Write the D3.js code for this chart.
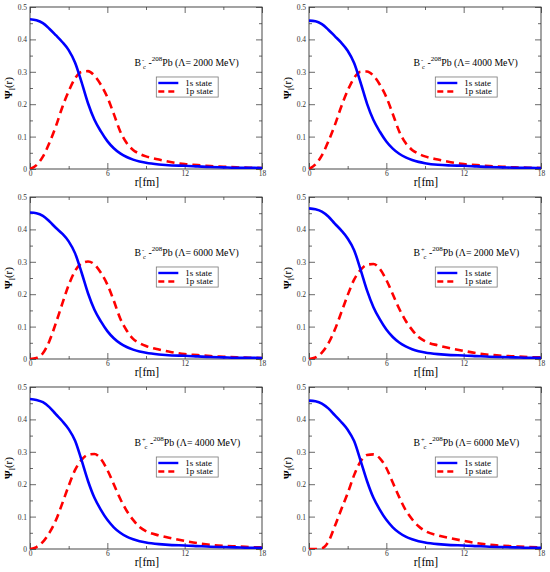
<!DOCTYPE html>
<html>
<head>
<meta charset="utf-8">
<script src="https://cdn.jsdelivr.net/npm/d3@7"></script>
<style>
  body { margin: 0; background: #fff; }
  svg { display: block; }
  svg text { font-family: "Liberation Serif", "DejaVu Serif", serif; }
  .tick text { font-size: 7.5px; fill: #333; }
  .tick line { stroke: #444; stroke-width: 0.8; }
</style>
</head>
<body>
<div id="container"></div>
<script>
// radial grid in fm
const r = [0, 0.5, 1, 1.5, 2, 2.5, 3, 3.5, 4, 4.5, 5, 5.5, 6, 6.5, 7, 7.5, 8, 8.5, 9, 10, 11, 12, 13, 14, 15, 16, 17, 18];

// B-_c - 208Pb
const bm2000_1s = [0.462, 0.459, 0.450, 0.433, 0.413, 0.392, 0.367, 0.328, 0.268, 0.203, 0.152, 0.116, 0.086, 0.064, 0.048, 0.037, 0.029, 0.023, 0.019, 0.014, 0.011, 0.010, 0.008, 0.006, 0.005, 0.004, 0.004, 0.003];
const bm2000_1p = [0, 0.012, 0.038, 0.080, 0.131, 0.190, 0.240, 0.280, 0.300, 0.302, 0.288, 0.260, 0.222, 0.170, 0.116, 0.080, 0.059, 0.047, 0.039, 0.029, 0.021, 0.015, 0.012, 0.009, 0.007, 0.005, 0.004, 0.003];
const bm4000_1s = [0.458, 0.456, 0.447, 0.430, 0.410, 0.390, 0.365, 0.327, 0.267, 0.202, 0.151, 0.115, 0.085, 0.063, 0.047, 0.036, 0.028, 0.022, 0.018, 0.013, 0.011, 0.010, 0.008, 0.006, 0.005, 0.004, 0.004, 0.003];
const bm4000_1p = [0, 0.014, 0.042, 0.085, 0.135, 0.192, 0.242, 0.281, 0.300, 0.301, 0.288, 0.260, 0.222, 0.170, 0.116, 0.080, 0.059, 0.047, 0.039, 0.029, 0.021, 0.015, 0.012, 0.009, 0.007, 0.005, 0.004, 0.003];
const bm6000_1s = [0.452, 0.450, 0.442, 0.425, 0.405, 0.387, 0.363, 0.326, 0.267, 0.203, 0.152, 0.116, 0.086, 0.064, 0.048, 0.037, 0.029, 0.023, 0.019, 0.014, 0.011, 0.010, 0.008, 0.006, 0.005, 0.004, 0.004, 0.003];
const bm6000_1p = [0, 0.003, 0.018, 0.055, 0.110, 0.170, 0.228, 0.272, 0.295, 0.301, 0.292, 0.266, 0.230, 0.180, 0.125, 0.088, 0.062, 0.049, 0.040, 0.029, 0.021, 0.015, 0.012, 0.009, 0.007, 0.005, 0.004, 0.003];

// B+_c - 208Pb
const bp2000_1s = [0.465, 0.462, 0.455, 0.440, 0.418, 0.397, 0.372, 0.336, 0.276, 0.212, 0.160, 0.122, 0.091, 0.068, 0.051, 0.039, 0.030, 0.024, 0.020, 0.015, 0.012, 0.011, 0.009, 0.007, 0.006, 0.005, 0.004, 0.004];
const bp2000_1p = [0, 0.005, 0.020, 0.048, 0.090, 0.143, 0.197, 0.245, 0.275, 0.291, 0.293, 0.278, 0.244, 0.200, 0.155, 0.118, 0.090, 0.068, 0.055, 0.042, 0.033, 0.025, 0.018, 0.013, 0.010, 0.008, 0.006, 0.005];
const bp4000_1s = [0.463, 0.460, 0.453, 0.438, 0.416, 0.395, 0.370, 0.334, 0.274, 0.210, 0.158, 0.121, 0.090, 0.067, 0.050, 0.038, 0.030, 0.024, 0.020, 0.015, 0.012, 0.011, 0.009, 0.007, 0.006, 0.005, 0.004, 0.004];
const bp4000_1p = [0, 0.006, 0.022, 0.050, 0.088, 0.140, 0.195, 0.244, 0.275, 0.291, 0.293, 0.278, 0.244, 0.200, 0.155, 0.118, 0.090, 0.068, 0.055, 0.042, 0.033, 0.025, 0.018, 0.013, 0.010, 0.008, 0.006, 0.005];
const bp6000_1s = [0.458, 0.456, 0.449, 0.434, 0.413, 0.392, 0.368, 0.333, 0.273, 0.210, 0.158, 0.121, 0.090, 0.067, 0.050, 0.038, 0.030, 0.024, 0.020, 0.015, 0.012, 0.011, 0.009, 0.007, 0.006, 0.005, 0.004, 0.004];
const bp6000_1p = [0, 0, 0.002, 0.022, 0.070, 0.122, 0.172, 0.228, 0.270, 0.290, 0.292, 0.280, 0.250, 0.205, 0.160, 0.120, 0.092, 0.070, 0.056, 0.042, 0.033, 0.025, 0.018, 0.013, 0.010, 0.008, 0.006, 0.005];

const charges = ["-", "-", "-", "+", "+", "+"];
const cutoffs = ["2000", "4000", "6000", "2000", "4000", "6000"];
const series1s = [bm2000_1s, bm4000_1s, bm6000_1s, bp2000_1s, bp4000_1s, bp6000_1s];
const series1p = [bm2000_1p, bm4000_1p, bm6000_1p, bp2000_1p, bp4000_1p, bp6000_1p];
const legendLabels = ["1s state", "1p state"];
const xTicks = [0, 6, 12, 18];
const xMinor = [3, 9, 15];
const yTicks = [0, 0.1, 0.2, 0.3, 0.4, 0.5];
const yMinor = [0.05, 0.15, 0.25, 0.35, 0.45];

const serif = "'Liberation Serif', 'DejaVu Serif', serif";
const width = 550;
const height = 572;
const cols = [30, 309];
const rows = [7, 197, 387];
const pw = 232;
const ph = 162;

const svg = d3.select("#container")
              .append("svg")
              .attr("width", width)
              .attr("height", height);

const x = d3.scaleLinear().domain([0, 18]).range([0, pw]);
const y = d3.scaleLinear().domain([0, 0.5]).range([ph, 0]);

const line = d3.line()
               .x((d) => x(d[0]))
               .y((d) => y(d[1]))
               .curve(d3.curveMonotoneX);

const yFmt = (d) => d === 0 ? "0" : d.toFixed(1);

svg.append("defs")
   .append("clipPath")
   .attr("id", "clip")
   .append("rect")
   .attr("width", pw)
   .attr("height", ph);

// panel order in the figure: left-right, top-bottom
const panelPos = [[0, 0], [1, 0], [0, 1], [1, 1], [0, 2], [1, 2]];

panelPos.forEach((p, i) => {
  const g = svg.append("g")
               .attr("transform", "translate(" + cols[p[0]] + "," + rows[p[1]] + ")");

  // major/minor ticks, inward on all four sides
  g.append("g")
   .attr("transform", "translate(0," + ph + ")")
   .call(d3.axisBottom(x).tickValues(xTicks).tickSize(-6).tickPadding(2).tickFormat(d3.format("d")));
  g.append("g")
   .attr("transform", "translate(0," + ph + ")")
   .call(d3.axisBottom(x).tickValues(xMinor).tickSize(-3).tickFormat(""));
  g.append("g")
   .call(d3.axisTop(x).tickValues(xTicks).tickSize(-6).tickFormat(""));
  g.append("g")
   .call(d3.axisTop(x).tickValues(xMinor).tickSize(-3).tickFormat(""));
  g.append("g")
   .call(d3.axisLeft(y).tickValues(yTicks).tickSize(-6).tickPadding(3).tickFormat(yFmt));
  g.append("g")
   .call(d3.axisLeft(y).tickValues(yMinor).tickSize(-3).tickFormat(""));
  g.append("g")
   .attr("transform", "translate(" + pw + ",0)")
   .call(d3.axisRight(y).tickValues(yTicks).tickSize(-6).tickFormat(""));
  g.append("g")
   .attr("transform", "translate(" + pw + ",0)")
   .call(d3.axisRight(y).tickValues(yMinor).tickSize(-3).tickFormat(""));
  g.selectAll(".domain").remove();
  g.selectAll(".tick text").style("font-family", serif);

  g.append("rect")
   .attr("width", pw)
   .attr("height", ph)
   .attr("fill", "none")
   .attr("stroke", "#333")
   .attr("stroke-width", 0.9);

  const plot = g.append("g").attr("clip-path", "url(#clip)");
  plot.append("path")
      .datum(r.map((v, k) => [v, series1p[i][k]]))
      .attr("d", line)
      .attr("fill", "none")
      .attr("stroke", "#ff0000")
      .attr("stroke-width", 2.6)
      .attr("stroke-dasharray", "8,5");
  plot.append("path")
      .datum(r.map((v, k) => [v, series1s[i][k]]))
      .attr("d", line)
      .attr("fill", "none")
      .attr("stroke", "#0000ff")
      .attr("stroke-width", 2.6);

  // axis titles
  g.append("text")
   .attr("x", pw / 2 + 1)
   .attr("y", ph + 17)
   .attr("text-anchor", "middle")
   .style("font-family", serif)
   .style("font-size", "11.5px")
   .text("r[fm]");

  const yl = g.append("text")
              .attr("transform", "translate(-18," + (ph / 2) + ")rotate(-90)")
              .attr("text-anchor", "middle")
              .style("font-family", serif)
              .style("font-size", "11px")
              .style("font-weight", "bold");
  yl.append("tspan").text("Ψ");
  yl.append("tspan").attr("dy", 3).style("font-size", "8px").style("font-weight", "normal").text("l");
  yl.append("tspan").attr("dy", -3).style("font-weight", "normal").text("(r)");

  // annotation
  const ann = g.append("text")
               .attr("x", x(8.1))
               .attr("y", y(0.318))
               .style("font-family", serif)
               .style("font-size", "9.8px");
  ann.append("tspan").text("B");
  ann.append("tspan").attr("dy", -4).attr("dx", 1).style("font-size", "6.5px").text(charges[i]);
  ann.append("tspan").attr("dy", 7).attr("dx", -1).style("font-size", "6.5px").text("c");
  ann.append("tspan").attr("dy", -3).text(" -");
  ann.append("tspan").attr("dy", -5).style("font-size", "7px").text("208");
  ann.append("tspan").attr("dy", 5).text("Pb (Λ= " + cutoffs[i] + " MeV)");

  // legend
  const lg = g.append("g")
              .attr("transform", "translate(" + x(9.8) + "," + y(0.284) + ")");
  lg.append("rect")
    .attr("width", x(14.6) - x(9.8))
    .attr("height", y(0.222) - y(0.284))
    .attr("fill", "#fff")
    .attr("stroke", "#777")
    .attr("stroke-width", 0.8);
  legendLabels.forEach((lab, k) => {
    lg.append("line")
      .attr("x1", 2)
      .attr("x2", 22)
      .attr("y1", 6 + k * 8.5)
      .attr("y2", 6 + k * 8.5)
      .attr("stroke", k === 0 ? "#0000ff" : "#ff0000")
      .attr("stroke-width", 2.4)
      .attr("stroke-dasharray", k === 0 ? null : "6,4");
    lg.append("text")
      .attr("x", 29)
      .attr("y", 9 + k * 8.5)
      .style("font-family", serif)
      .style("font-size", "9px")
      .text(lab);
  });
});
</script>
</body>
</html>
